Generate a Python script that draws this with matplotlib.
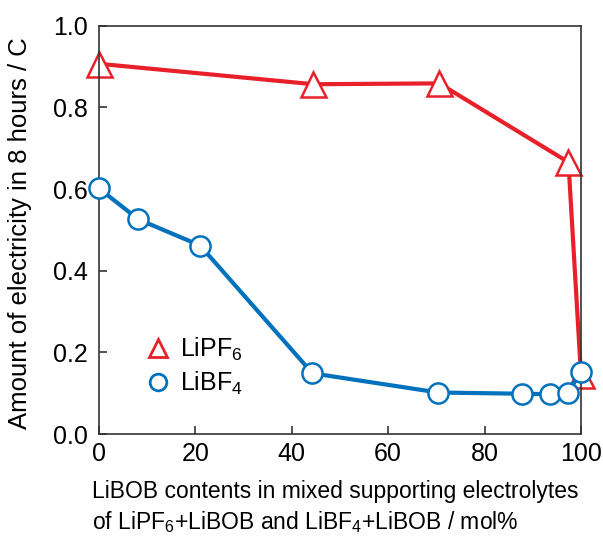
import matplotlib
matplotlib.use('Agg')
import matplotlib.pyplot as plt
from matplotlib.lines import Line2D

plt.rcParams['font.family'] = ['Liberation Sans', 'DejaVu Sans']
plt.rcParams['mathtext.fontset'] = 'custom'
plt.rcParams['mathtext.rm'] = 'Liberation Sans'
plt.rcParams['mathtext.it'] = 'Liberation Sans'
plt.rcParams['mathtext.default'] = 'regular'

# LiBOB content (mol%) and charge passed in 8 h (C)
pf6_x = [0, 44.5, 70.6, 97.4, 100]
pf6_y = [0.907, 0.857, 0.859, 0.666, 0.145]

bf4_x = [0, 8.2, 21.0, 44.3, 70.4, 87.8, 93.6, 97.3, 100]
bf4_y = [0.602, 0.526, 0.462, 0.149, 0.102, 0.099, 0.098, 0.102, 0.153]

red = '#e8202a'
blue = '#0071bc'

fig = plt.figure(figsize=(6.03, 5.38), dpi=100)
ax = fig.add_axes([0.164, 0.193, 0.7995, 0.759])

ax.plot(bf4_x, bf4_y, color=blue, lw=3, marker='o', ms=14.5,
        mfc='white', mec=blue, mew=1.8, clip_on=False, zorder=3)
ax.plot(pf6_x, pf6_y, color=red, lw=3, marker='^', ms=18,
        mfc='white', mec=red, mew=1.8, clip_on=False, zorder=2)

ax.set_xlim(0, 100)
ax.set_ylim(0, 1.0)
ax.set_xticks([0, 20, 40, 60, 80, 100])
ax.set_yticks([0.0, 0.2, 0.4, 0.6, 0.8, 1.0])
ax.set_yticklabels(['0.0', '0.2', '0.4', '0.6', '0.8', '1.0'])

for s in ax.spines.values():
    s.set_color('#333333')
    s.set_linewidth(1.2)
ax.tick_params(direction='in', length=6, width=1.2, color='#333333',
               labelsize=18)
ax.tick_params(axis='x', pad=6)
ax.tick_params(axis='y', pad=8)

ax.set_ylabel('Amount of electricity in 8 hours / C', fontsize=18.5,
              va='center')
ax.yaxis.set_label_coords(-0.164, 0.492)

ax.set_xlabel('LiBOB contents in mixed supporting electrolytes\n'
              'of LiPF$_6$+LiBOB and LiBF$_4$+LiBOB / mol%',
              fontsize=16.5, ha='left', va='top', linespacing=1.3)
ax.xaxis.set_label_coords(-0.015, -0.113)

handles = [
    Line2D([], [], ls='none', marker='^', ms=13, mfc='white', mec=red, mew=2),
    Line2D([], [], ls='none', marker='o', ms=12, mfc='white', mec=blue, mew=2),
]
ax.legend(handles, ['LiPF$_6$', 'LiBF$_4$'], loc='lower left',
          bbox_to_anchor=(0.05, 0.035), frameon=False, fontsize=18,
          handlelength=1.0, handletextpad=0.4, labelspacing=0.3)

fig.savefig('out.png', dpi=100)
